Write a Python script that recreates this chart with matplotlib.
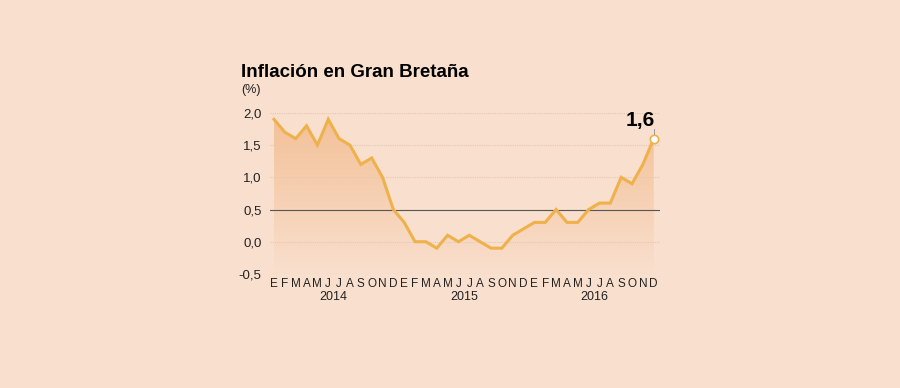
import numpy as np
import matplotlib

matplotlib.use('Agg')
import matplotlib.pyplot as plt
from matplotlib.patches import Polygon

plt.rcParams['font.family'] = ['Liberation Sans', 'DejaVu Sans']

months = ['E', 'F', 'M', 'A', 'M', 'J', 'J', 'A', 'S', 'O', 'N', 'D'] * 3
years = ['2014', '2015', '2016']
inflation = [1.9, 1.7, 1.6, 1.8, 1.5, 1.9, 1.6, 1.5, 1.2, 1.3, 1.0, 0.5,
             0.3, 0.0, 0.0, -0.1, 0.1, 0.0, 0.1, 0.0, -0.1, -0.1, 0.1, 0.2,
             0.3, 0.3, 0.5, 0.3, 0.3, 0.5, 0.6, 0.6, 1.0, 0.9, 1.2, 1.6]
yticks = [-0.5, 0.0, 0.5, 1.0, 1.5, 2.0]

bg = '#f9dfcd'
line_col = '#efb14c'

fig = plt.figure(figsize=(9, 3.88), dpi=100, facecolor=bg)
ax = fig.add_axes([0.3, 0.294, 0.433, 0.415])
ax.set_facecolor(bg)

x = np.arange(len(inflation))
ymin, ymax = -0.5, 2.0
ax.set_xlim(-0.37, 35.55)
ax.set_ylim(ymin, ymax)

# gradient fill under the line
grad = np.linspace(0, 1, 256).reshape(-1, 1)
top = np.array([0xf3, 0xc0, 0x96]) / 255
bot = np.array(matplotlib.colors.to_rgb(bg))
img = bot + (top - bot) * grad
img = img[:, None, :].repeat(2, axis=1)
im = ax.imshow(img, extent=[x[0], x[-1], ymin, ymax], origin='lower',
               aspect='auto', zorder=1)
poly = Polygon(np.column_stack([np.r_[x, x[-1], x[0]],
                                np.r_[inflation, ymin, ymin]]),
               closed=True, transform=ax.transData)
im.set_clip_path(poly)

for t in yticks:
    if t == 0.5:
        ax.axhline(t, color='#555555', lw=0.8, zorder=2)
    else:
        ax.axhline(t, color='#e6c6b2', lw=0.8, ls=(0, (1, 1)), zorder=2)

ax.plot(x, inflation, color=line_col, lw=2.2, zorder=3, solid_joinstyle='miter')
ax.plot(x[-1], inflation[-1], 'o', ms=6, mfc='white', mec=line_col, mew=1.2, zorder=4)
ax.plot([x[-1], x[-1]], [inflation[-1] + 0.07, inflation[-1] + 0.15],
        color='#999999', lw=0.7, clip_on=False, zorder=4)
ax.text(x[-1] - 1.2, inflation[-1] + 0.14, '1,6', fontsize=15, fontweight='bold',
        ha='center', va='bottom', color='black', clip_on=False)

ax.set_yticks(yticks)
ax.set_yticklabels([('%.1f' % t).replace('.', ',') for t in yticks], fontsize=9.5, color='#222222')
ax.set_xticks(x)
ax.set_xticklabels(months, fontsize=8.5, color='#222222')
ax.tick_params(length=0, pad=3)
ax.tick_params(axis='y', pad=6)
for s in ax.spines.values():
    s.set_visible(False)

for i, yr in enumerate(years):
    ax.text(5.5 + 12 * i, -0.145, yr, transform=ax.get_xaxis_transform(),
            ha='center', va='center', fontsize=9, color='#222222')

fig.text(0.268, 0.813, 'Inflación en Gran Bretaña', fontsize=13.5, fontweight='bold',
         ha='left', va='center', color='black')
fig.text(0.268, 0.768, '(%)', fontsize=9, ha='left', va='center', color='#222222')

fig.savefig('out.png', dpi=100, facecolor=bg)
